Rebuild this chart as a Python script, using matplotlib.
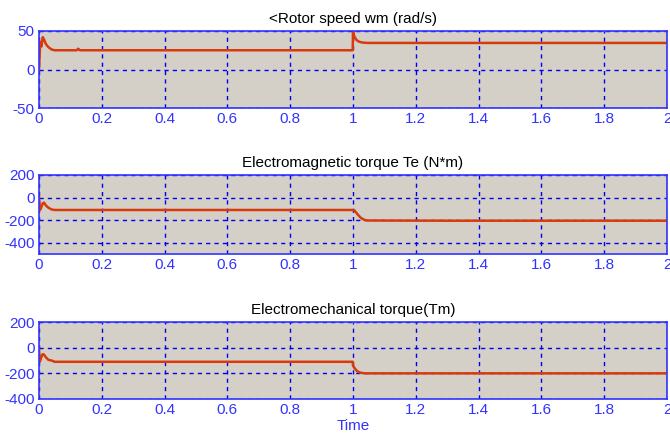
import numpy as np
import matplotlib
matplotlib.use("Agg")
import matplotlib.pyplot as plt

plt.rcParams['font.family'] = ['Liberation Sans', 'DejaVu Sans']
plt.rcParams['axes.unicode_minus'] = False

# key points
t_speed = [0, 0.004, 0.008, 0.012, 0.016, 0.022, 0.03, 0.04, 0.05, 0.12, 0.125, 0.13, 0.999,
           1.0, 1.005, 1.012, 1.02, 1.03, 1.045, 1.3, 1.6, 2.0]
speed = [0, 36, 30, 42, 39, 33, 29, 26, 25, 25, 27, 25, 25,
         49, 42, 38, 36, 35, 34.5, 34.5, 34.5, 34.5]

t_te = [0, 0.003, 0.006, 0.012, 0.016, 0.022, 0.03, 0.04, 0.05, 0.999,
        1.005, 1.015, 1.025, 1.035, 1.045, 1.3, 1.6, 2.0]
te = [0, -110, -95, -50, -45, -70, -90, -105, -110, -110,
      -115, -150, -180, -196, -203, -205, -205, -205]

t_tm = [0, 0.002, 0.004, 0.008, 0.012, 0.016, 0.022, 0.03, 0.04, 0.05, 0.999,
        1.0, 1.005, 1.012, 1.02, 1.03, 1.04, 1.3, 1.6, 2.0]
tm = [0, -110, -100, -70, -50, -55, -75, -95, -100, -110, -110,
      -140, -160, -180, -192, -198, -200, -200, -200, -200]

titles = ["<Rotor speed wm (rad/s)", "Electromagnetic torque Te (N*m)",
          "Electromechanical torque(Tm)"]
ylims = [(-50, 50), (-500, 200), (-400, 200)]
yticks = [[-50, 0, 50], [-400, -200, 0, 200], [-400, -200, 0, 200]]
xticks = [0, 0.2, 0.4, 0.6, 0.8, 1, 1.2, 1.4, 1.6, 1.8, 2]
xticklabels = ["0", "0.2", "0.4", "0.6", "0.8", "1", "1.2", "1.4", "1.6", "1.8", "2"]

blue = "#3333ff"
line_col = "#d93a0c"
bg = "#d4d0c8"

fig = plt.figure(figsize=(6.7, 4.37), dpi=100)
# axes boxes in pixels: left, top, right, bottom
boxes = [(39, 31, 667, 108), (39, 175, 667, 254), (39, 322, 667, 399)]
W, H = 670, 437
series = [(t_speed, speed), (t_te, te), (t_tm, tm)]

for i in range(3):
    l, tp, r, b = boxes[i]
    ax = fig.add_axes([l / W, 1 - b / H, (r - l) / W, (b - tp) / H])
    ax.set_facecolor(bg)
    x, y = series[i]
    ax.plot(x, y, color=line_col, lw=1.8)
    ax.set_xlim(0, 2)
    ax.set_ylim(*ylims[i])
    ax.set_xticks(xticks)
    ax.set_xticklabels(xticklabels)
    ax.set_yticks(yticks[i])
    ax.grid(True, color="#0000ee", linestyle=(0, (3, 3)), lw=1.0)
    for s in ax.spines.values():
        s.set_color(blue)
        s.set_linewidth(1.2)
    ax.tick_params(colors=blue, labelsize=11, length=0, pad=3)
    for lab in ax.get_xticklabels() + ax.get_yticklabels():
        lab.set_color(blue)
    ax.set_title(titles[i], fontsize=11, color="black", pad=6)
    if i == 2:
        ax.set_xlabel("Time", color=blue, fontsize=11, labelpad=1)

fig.savefig("out.png", dpi=100)
